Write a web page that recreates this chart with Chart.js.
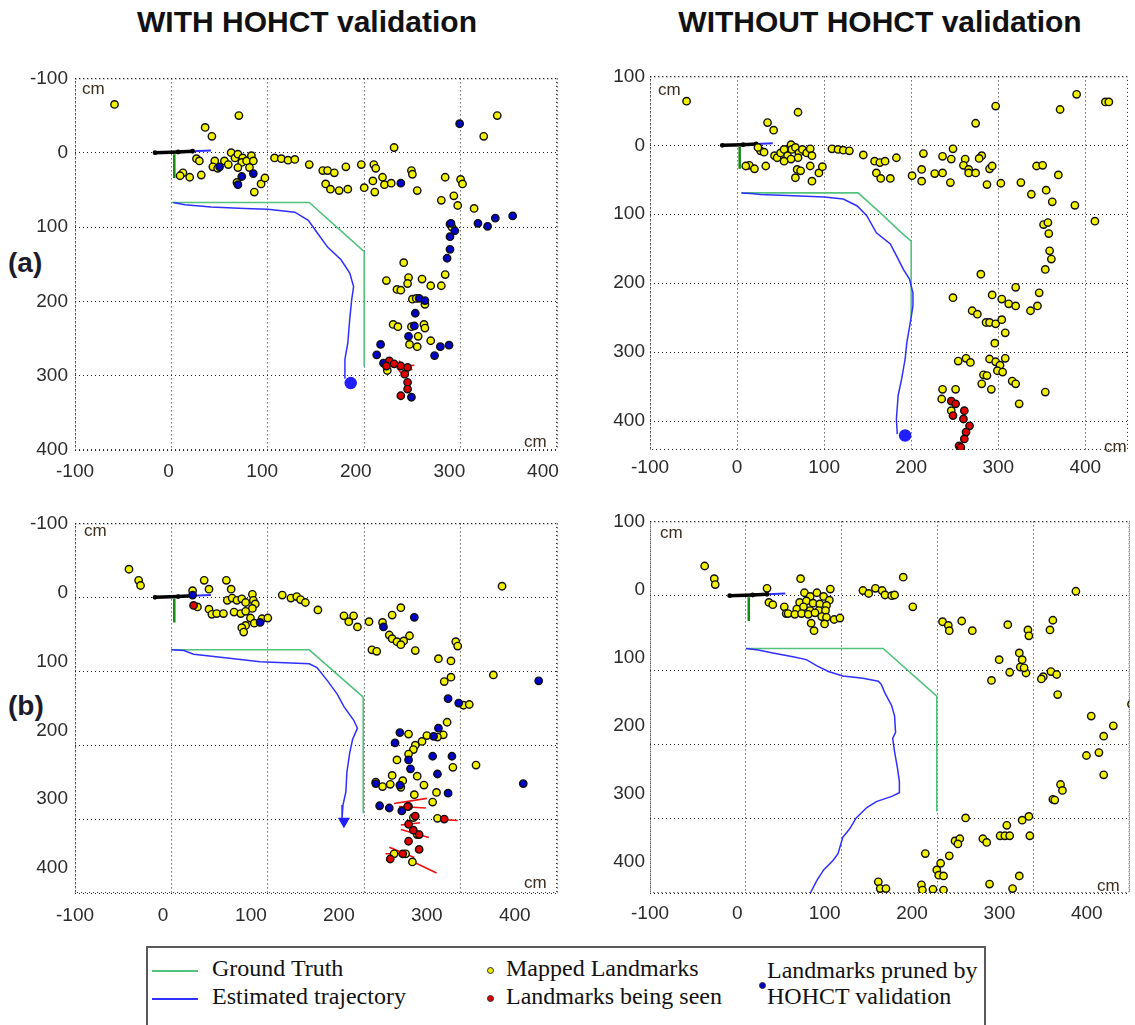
<!DOCTYPE html>
<html>
<head>
<meta charset="utf-8">
<script src="https://cdn.jsdelivr.net/npm/chart.js@4.4.0/dist/chart.umd.min.js"></script>
<style>
  body { margin: 0; background: #fff; width: 1135px; height: 1025px; position: relative; overflow: hidden; }
  canvas { position: absolute; }
  .hd { position: absolute; top: 5px; font: bold 30px "Liberation Sans", Arial, sans-serif; color: #111; white-space: nowrap; transform: translateX(-50%); }
  .row { position: absolute; left: 8px; font: bold 28px "Liberation Sans", Arial, sans-serif; color: #1b1b2b; }
  .cm { position: absolute; font: 17px "Liberation Sans", Arial, sans-serif; color: #3d2e1e; }
  #legend { position: absolute; left: 146px; top: 946px; width: 836px; height: 100px; border: 2px solid #5a5a5a; }
  .lg { position: absolute; font: 24px "Liberation Serif", "Times New Roman", serif; color: #111; white-space: nowrap; }
  .ln { position: absolute; height: 2px; width: 46px; }
  .dot { position: absolute; width: 5px; height: 5px; border-radius: 50%; border: 1px solid #333; }
</style>
</head>
<body>
<div class="hd" style="left:307px">WITH HOHCT validation</div>
<div class="hd" style="left:880px">WITHOUT HOHCT validation</div>
<div class="row" style="top:247px">(a)</div>
<div class="row" style="top:690px">(b)</div>

<canvas id="aW" width="600" height="420" style="left:0;top:60px"></canvas>
<canvas id="aWO" width="522" height="420" style="left:613px;top:60px"></canvas>
<canvas id="bW" width="600" height="420" style="left:0;top:505px"></canvas>
<canvas id="bWO" width="522" height="420" style="left:613px;top:505px"></canvas>

<span class="cm" style="left:82px;top:79px">cm</span>
<span class="cm" style="left:524px;top:432px">cm</span>
<span class="cm" style="left:658px;top:80px">cm</span>
<span class="cm" style="left:1104px;top:437px">cm</span>
<span class="cm" style="left:84px;top:521px">cm</span>
<span class="cm" style="left:524px;top:873px">cm</span>
<span class="cm" style="left:660px;top:523px">cm</span>
<span class="cm" style="left:1097px;top:876px">cm</span>

<div id="legend"></div>
<div class="ln" style="left:152px;top:970px;background:#52c27c"></div>
<div class="ln" style="left:152px;top:998px;background:#2f2fff"></div>
<div class="lg" style="left:212px;top:955px">Ground Truth</div>
<div class="lg" style="left:212px;top:983px">Estimated trajectory</div>
<div class="dot" style="left:487px;top:967px;background:#e8e800"></div>
<div class="dot" style="left:487px;top:995px;background:#e00000"></div>
<div class="lg" style="left:506px;top:955px">Mapped Landmarks</div>
<div class="lg" style="left:506px;top:983px">Landmarks being seen</div>
<div class="dot" style="left:759px;top:982px;background:#0000c8"></div>
<div class="lg" style="left:767px;top:957px">Landmarks pruned by</div>
<div class="lg" style="left:767px;top:983px">HOHCT validation</div>

<script>
// tick values shared by every axis
const tickValues = [-100, 0, 100, 200, 300, 400];

// robot start pose, same in every run
const robotBody = [[-17, 0], [7, -1], [22, -2]];
const robotHead = [[22, -2], [41, -3]];
const robotAxis = [[3, 2], [3, 34]];

// (a) with HOHCT validation
const truthAW = [[0, 67], [143, 67], [200, 133], [200, 288]];
const estAW = [[2, 67], [14, 70], [41, 73], [76, 75], [100, 76], [128, 80], [142, 91], [152, 109], [162, 127],
  [176, 144], [185, 162], [189, 180], [187, 198], [185, 224], [183, 256], [180, 278], [180, 304]];
const endAW = [[186, 310]];
const mappedAW = [[-59, -65], [70, -50], [35, -34], [42, -22], [231, -7], [338, -50], [324, -22],
  [26, 8], [29, 11], [12, 27], [19, 33], [9, 31], [31, 30],
  [45, 11], [43, 19], [48, 21], [55, 11], [62, 0], [66, 7], [59, 16], [69, 2], [74, 7], [73, 13], [69, 20],
  [78, 11], [83, 4], [85, 11], [81, 20], [68, 40], [86, 53], [93, 42], [97, 34],
  [107, 7], [114, 8], [121, 10], [128, 9], [143, 16], [157, 24], [162, 24], [169, 27], [181, 19],
  [160, 42], [165, 49], [174, 51], [183, 49], [197, 16], [200, 47], [210, 16], [212, 21], [209, 38], [211, 53],
  [219, 33], [221, 43], [228, 41], [249, 24], [250, 29], [255, 51],
  [284, 33], [300, 36], [302, 42], [280, 64], [293, 58], [297, 71], [314, 75], [289, 96], [291, 100],
  [241, 148], [223, 172], [246, 168], [260, 170], [245, 176], [234, 184], [238, 185], [269, 179], [280, 179], [284, 164],
  [250, 197], [254, 196], [263, 204], [230, 231], [235, 234], [249, 234], [262, 231], [263, 236], [256, 247],
  [269, 253], [247, 258], [255, 261], [224, 293]];
const prunedAW = [[299, -39], [238, 41], [50, 19], [73, 32], [85, 28], [69, 43], [318, 95], [328, 99], [336, 88],
  [354, 85], [290, 95], [294, 105], [289, 113], [289, 130], [286, 142], [257, 196], [263, 199], [253, 216],
  [252, 233], [246, 247], [273, 273], [288, 259], [279, 261], [217, 258], [213, 272], [220, 283], [249, 329]];
const seenAW = [[226, 280], [231, 284], [238, 287], [245, 289], [242, 298], [245, 309], [245, 318], [238, 327], [223, 287]];
const seenLinesAW = [[222, 283, 250, 292], [228, 278, 238, 296], [232, 288, 252, 286], [236, 280, 246, 296]];

// (a) without HOHCT validation
const truthAWO = [[5, 69], [139, 69], [168, 102], [189, 127], [200, 139], [200, 250]];
const estAWO = [[5, 69], [16, 70], [27, 71.5], [65, 73], [100, 75], [122, 78], [138, 88], [149, 102], [160, 127],
  [176, 143], [183, 160], [191, 180], [198, 194], [202, 214], [202, 233], [199, 257], [195, 286], [193, 310],
  [189, 339], [185, 363], [183, 397], [184, 419]];
const endAWO = [[193, 421]];
const mappedAWO = [[-58, -64], [70, -48], [35, -33], [42, -22], [297, -57], [274, -32], [371, -52], [390, -74], [423, -63], [427, -63],
  [27, 8], [31, 10], [24, 3], [14, 29], [10, 30], [20, 34], [33, 30], [43, 15], [46, 18], [50, 11], [54, 6], [58, 15],
  [62, -1], [63, 6], [67, 3], [71, 11], [70, 18], [75, 6], [80, 11], [84, 5], [86, 15], [54, 23], [62, 20], [69, 35],
  [67, 47], [73, 37], [84, 30], [86, 52], [94, 40], [98, 31],
  [248, 5], [214, 12], [236, 16], [246, 20], [183, 18], [145, 14], [158, 23], [164, 25], [170, 23], [160, 40], [165, 48], [176, 48],
  [109, 5], [116, 6], [122, 7], [129, 8], [212, 35], [201, 44], [212, 52], [227, 41], [236, 40], [245, 54],
  [262, 20], [260, 29], [266, 35], [266, 40], [274, 40], [281, 15], [278, 19], [290, 34], [293, 30], [287, 57], [303, 55],
  [326, 54], [338, 71], [344, 30], [351, 29], [369, 43], [355, 65], [362, 82], [388, 87], [411, 110],
  [352, 115], [357, 112], [358, 128], [359, 153], [361, 165], [354, 180],
  [280, 187], [320, 206], [347, 214], [248, 221], [293, 217], [304, 223], [312, 230], [320, 233], [337, 240], [345, 233],
  [270, 240], [276, 245], [286, 257], [290, 257], [297, 259], [304, 253], [308, 272], [296, 287],
  [254, 313], [263, 309], [268, 315], [290, 310], [297, 314], [302, 319], [308, 309], [299, 327], [305, 329],
  [283, 333], [287, 334], [281, 346], [292, 354], [316, 342], [320, 346], [354, 358], [324, 375],
  [236, 354], [251, 354], [235, 368], [246, 385]];
const prunedAWO = [];
const seenAWO = [[246, 371], [251, 375], [261, 385], [260, 397], [267, 407], [263, 416], [261, 426], [255, 436], [257, 438], [248, 392]];
const seenLinesAWO = [];

// (b) with HOHCT validation
const truthBW = [[0, 71], [143, 71], [199, 135], [199, 292]];
const estBW = [[0, 71], [13, 72], [23, 77], [58, 82], [92, 87], [143, 90], [151, 95], [162, 113], [172, 131],
  [179, 148], [189, 166], [193, 177], [188, 192], [185, 210], [182, 237], [181, 263], [178, 281], [177, 299]];
const endBW = [[179, 303]];
const mappedBW = [[-44, -38], [-34, -23], [-32, -16], [34, -23], [39, -11], [57, -23], [62, -11], [22, -9], [343, -15],
  [27, 13], [39, 16], [42, 23], [47, 22], [54, 22], [58, 4], [63, 1], [68, 4], [73, 2], [77, 7], [84, -4], [85, 4], [87, 9], [84, 15],
  [65, 20], [72, 22], [77, 19], [82, 28], [86, 35], [77, 38], [73, 41], [75, 47], [94, 29], [100, 28],
  [115, -3], [124, 1], [130, -1], [134, 3], [139, 7], [152, 17],
  [179, 25], [189, 25], [184, 33], [193, 40], [205, 33], [219, 34], [229, 24], [238, 14],
  [226, 51], [229, 56], [234, 60], [241, 59], [247, 52], [238, 64], [208, 71], [213, 73], [253, 72],
  [277, 83], [290, 86], [295, 60], [297, 66], [334, 105], [290, 108], [283, 114], [303, 146], [309, 145], [286, 169],
  [282, 186], [265, 187], [276, 189], [246, 185], [260, 195], [253, 200], [251, 206], [246, 212], [234, 220], [292, 230], [316, 227],
  [255, 242], [240, 248], [229, 241], [212, 250], [219, 256], [227, 253], [238, 257], [262, 254], [252, 267], [275, 264],
  [271, 277], [276, 299], [251, 298], [255, 321], [231, 347], [243, 347], [250, 358]];
const prunedBW = [[22, -3], [92, 34], [220, 40], [252, 27], [381, 113], [287, 137], [298, 143], [277, 177], [237, 183],
  [232, 197], [272, 188], [271, 215], [291, 215], [246, 220], [248, 232], [276, 239], [365, 252], [212, 252], [237, 254],
  [287, 265], [216, 282], [226, 285], [239, 289], [246, 283]];
const seenBW = [[23, 11], [245, 283], [253, 296], [283, 300], [246, 307], [251, 315], [257, 321], [246, 330], [257, 341], [227, 354], [240, 347]];
const seenLinesBW = [[231, 279, 265, 272], [236, 283, 264, 285], [276, 300, 297, 302], [238, 308, 258, 305],
  [238, 314, 267, 325], [226, 338, 252, 352], [222, 347, 243, 347], [248, 356, 275, 373], [224, 356, 236, 343]];

// (b) without HOHCT validation
const truthBWO = [[0, 71], [143, 71], [199, 135], [199, 290]];
const estBWO = [[0, 71], [13, 73], [28, 77], [49, 82], [63, 86], [75, 95], [86, 102], [101, 108], [122, 111], [138, 115],
  [141, 119], [145, 131], [152, 148], [155, 162], [156, 184], [153, 192], [155, 210], [158, 232], [160, 250], [160, 265],
  [152, 270], [136, 277], [126, 285], [115, 299], [108, 314], [101, 325], [96, 347], [91, 356], [81, 369], [74, 383],
  [68, 398], [63, 410]];
const endBWO = [];
const mappedBWO = [[-43, -40], [-33, -23], [-32, -15], [57, -23], [164, -25], [174, 15], [22, -10], [24, 9], [28, 12], [40, 15], [42, 24],
  [61, -4], [67, 1], [74, -4], [81, 1], [87, 6], [88, -9], [56, 9], [63, 7], [70, 10], [77, 11], [84, 13], [53, 18], [60, 15],
  [67, 20], [76, 20], [83, 20], [44, 24], [51, 25], [58, 24], [65, 25], [72, 23], [79, 28], [84, 29], [92, 32], [98, 30],
  [68, 37], [71, 47], [82, 38],
  [122, -7], [128, -3], [135, -10], [142, -7], [145, -1], [152, 0], [155, -1],
  [205, 35], [211, 40], [212, 47], [225, 34], [236, 47], [273, 39], [264, 86], [256, 114], [275, 103],
  [285, 77], [288, 86], [286, 96], [292, 104], [290, 97], [294, 46], [295, 54], [317, 46], [320, 33],
  [310, 109], [308, 112], [318, 102], [324, 106], [325, 133], [344, -6], [360, 162], [383, 175], [402, 146],
  [373, 189], [355, 215], [368, 211], [373, 241], [328, 254], [330, 262], [320, 274], [322, 275],
  [229, 299], [288, 302], [295, 297], [272, 309], [296, 323], [265, 323], [270, 323], [275, 323], [247, 327], [251, 332],
  [218, 330], [223, 327], [221, 334], [212, 350], [187, 347], [203, 360], [199, 369], [201, 376], [206, 377],
  [254, 388], [285, 377], [278, 394], [138, 385], [140, 394], [146, 394], [183, 389], [184, 396], [195, 395], [206, 396]];
const prunedBWO = [];
const seenBWO = [];
const seenLinesBWO = [];

Chart.defaults.font.family = '"Liberation Sans", Arial, sans-serif';

const pts = a => a.map(([x, y]) => ({ x, y }));
const segs = a => a.flatMap(([x1, y1, x2, y2]) => [{ x: x1, y: y1 }, { x: x2, y: y2 }, { x: null, y: null }]);
const fixedTicks = sc => { sc.ticks = tickValues.map(value => ({ value })); };

// dotted box round the plot area
const frame = {
  id: 'frame',
  beforeDatasetsDraw(chart) {
    const { left, top, right, bottom } = chart.chartArea;
    const ctx = chart.ctx;
    ctx.save();
    ctx.strokeStyle = '#222';
    ctx.lineWidth = 1;
    ctx.setLineDash([1, 3]);
    ctx.strokeRect(left + 0.5, top + 0.5, right - left - 1, bottom - top - 1);
    ctx.restore();
  }
};

// every mark sits on the gridded x/y pair, never on the label axes
function marks(data, fill, order) {
  return { type: 'scatter', xAxisID: 'x', yAxisID: 'y', data: pts(data), pointRadius: 3.7, pointBackgroundColor: fill,
    pointBorderColor: '#111', pointBorderWidth: 1.4, showLine: false, order };
}
function path(data, color, width, order, extra) {
  return Object.assign({ type: 'line', xAxisID: 'x', yAxisID: 'y', data: pts(data), borderColor: color, borderWidth: width,
    pointRadius: 0, fill: false, tension: 0, order }, extra || {});
}

function gridAxis(range, pos, reverse) {
  return { type: 'linear', min: range[0], max: range[1], position: pos, reverse, weight: 0,
    afterBuildTicks: fixedTicks,
    ticks: { display: false },
    grid: { color: '#222', lineWidth: 1, drawTicks: false },
    border: { display: false, dash: [1, 3] } };
}
function labelAxis(range, pos, reverse, size, pad) {
  return { type: 'linear', min: range[0], max: range[1], position: pos, reverse, weight: 1,
    afterBuildTicks: fixedTicks,
    ticks: { autoSkip: false, maxRotation: 0, padding: pad, color: '#2b2b2b', font: { size: 19 } },
    grid: { display: false, drawTicks: false },
    border: { display: false },
    afterFit: sc => { if (pos === 'left') sc.width = size; else sc.height = size; } };
}

function drawPanel(id, p) {
  const datasets = [
    marks(p.seen, '#e00000', 1),
    marks(p.pruned, '#0000c8', 2),
    marks(p.mapped, '#f2f200', 3),
    path([], '#ee1111', 1.6, 4, { data: segs(p.seenLines), spanGaps: false }),
    path(robotBody, '#000', 3.5, 5, { pointRadius: 2.4, pointBackgroundColor: '#000', pointBorderWidth: 0 }),
    path(robotHead, '#2f2fff', 2, 6),
    path(robotAxis, '#138a13', 2.5, 7),
    { type: 'scatter', xAxisID: 'x', yAxisID: 'y', data: pts(p.end), pointRadius: 5.5, pointStyle: p.endStyle, rotation: p.endRot,
      pointBackgroundColor: '#2020ff', pointBorderColor: '#2020ff', pointBorderWidth: 1.5, order: 8 },
    path(p.est, '#2f2fff', 1.5, 9),
    path(p.truth, '#52c27c', 1.6, 10)
  ];
  new Chart(document.getElementById(id), {
    type: 'scatter',
    data: { datasets },
    options: {
      responsive: false,
      animation: false,
      devicePixelRatio: 1,
      layout: { padding: { top: p.padTop, right: p.padRight, left: 0, bottom: 0 } },
      plugins: { legend: { display: false }, tooltip: { enabled: false } },
      scales: {
        x: gridAxis(p.gx, 'bottom', false),
        y: gridAxis(p.gy, 'left', true),
        xl: labelAxis(p.lx, 'bottom', false, p.xh, p.xpad),
        yl: labelAxis(p.ly, 'left', true, p.yw, p.ypad)
      }
    },
    plugins: [frame]
  });
}

drawPanel('aW', { truth: truthAW, est: estAW, end: endAW, endStyle: 'circle', endRot: 0,
  mapped: mappedAW, pruned: prunedAW, seen: seenAW, seenLines: seenLinesAW,
  gx: [-100, 400], gy: [-100, 400], lx: [-100, 415], ly: [-100, 400],
  padTop: 15, padRight: 43, yw: 75, xh: 30, xpad: 10, ypad: 7 });

drawPanel('aWO', { truth: truthAWO, est: estAWO, end: endAWO, endStyle: 'circle', endRot: 0,
  mapped: mappedAWO, pruned: prunedAWO, seen: seenAWO, seenLines: seenLinesAWO,
  gx: [-100, 449], gy: [-100, 442], lx: [-100, 449], ly: [-100, 442],
  padTop: 15, padRight: 3, yw: 37, xh: 30, xpad: 6, ypad: 5 });

drawPanel('bW', { truth: truthBW, est: estBW, end: endBW, endStyle: 'triangle', endRot: 180,
  mapped: mappedBW, pruned: prunedBW, seen: seenBW, seenLines: seenLinesBW,
  gx: [-100, 400], gy: [-100, 400], lx: [-100, 448], ly: [-100, 436],
  padTop: 13, padRight: 43, yw: 75, xh: 32, xpad: 11, ypad: 7 });

drawPanel('bWO', { truth: truthBWO, est: estBWO, end: endBWO, endStyle: 'circle', endRot: 0,
  mapped: mappedBWO, pruned: prunedBWO, seen: seenBWO, seenLines: seenLinesBWO,
  gx: [-100, 400], gy: [-100, 400], lx: [-100, 449], ly: [-100, 446],
  padTop: 13, padRight: 3, yw: 37, xh: 32, xpad: 9, ypad: 5 });
</script>
</body>
</html>
